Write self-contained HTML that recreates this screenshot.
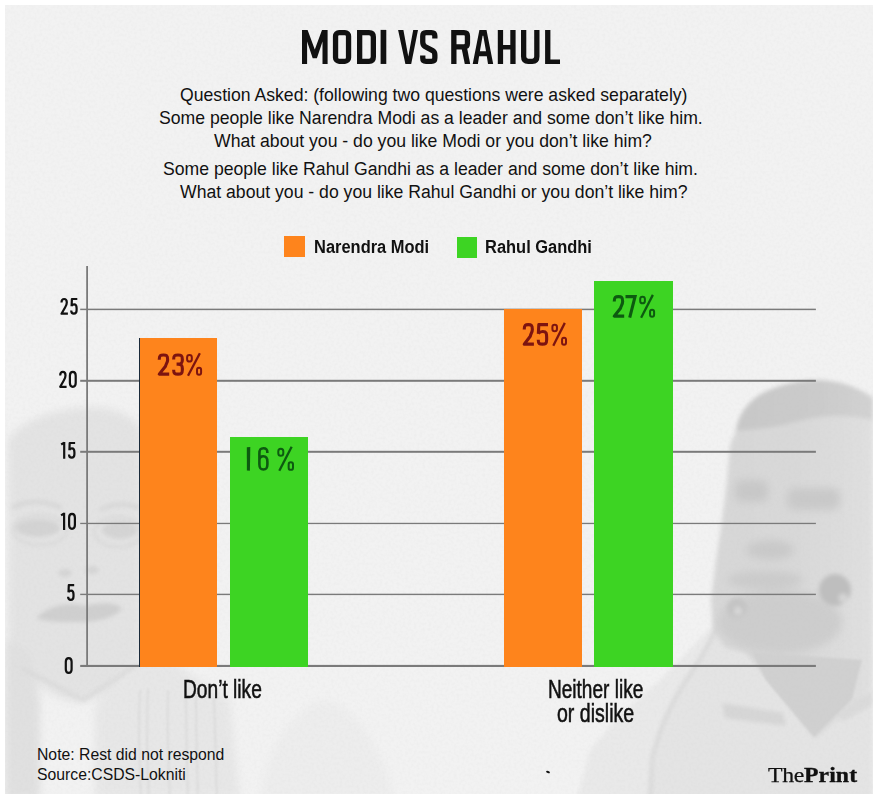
<!DOCTYPE html>
<html><head><meta charset="utf-8">
<style>
html,body{margin:0;padding:0;background:#fff;}
body{width:878px;height:799px;position:relative;overflow:hidden;font-family:"Liberation Sans",sans-serif;}
#card{position:absolute;left:5px;top:5px;width:868px;height:789px;background:#f2f2f2;overflow:hidden;}
.a{position:absolute;white-space:nowrap;line-height:1;}
.q{font-size:17.64px;color:#111;}
.cond{transform-origin:0 0;}
.grid{position:absolute;height:2px;background:#7a7a7a;}
.tick{position:absolute;font-size:23.7px;color:#111;transform-origin:0 0;}
.bar{position:absolute;}
.or{background:#fe841c;}
.gr{background:#3dd423;}
.bl{position:absolute;font-size:30.5px;transform-origin:0 0;font-weight:bold;}
</style></head><body>
<div id="card"></div>
<svg id="bgsvg" width="878" height="799" viewBox="0 0 878 799" style="position:absolute;left:0;top:0">
<defs>
<clipPath id="cc"><rect x="5" y="5" width="868" height="789"/></clipPath>
<filter id="b1" x="-20%" y="-20%" width="140%" height="140%"><feGaussianBlur stdDeviation="1"/></filter>
<filter id="b2" x="-20%" y="-20%" width="140%" height="140%"><feGaussianBlur stdDeviation="2"/></filter>
<filter id="b4" x="-20%" y="-20%" width="140%" height="140%"><feGaussianBlur stdDeviation="4"/></filter>
<filter id="b8" x="-30%" y="-30%" width="160%" height="160%"><feGaussianBlur stdDeviation="8"/></filter>
<linearGradient id="faceg" x1="0" y1="0" x2="1" y2="0">
<stop offset="0" stop-color="#d7d7d7"/><stop offset="0.6" stop-color="#d9d9d9"/><stop offset="1" stop-color="#e0e0e0"/>
</linearGradient>
<linearGradient id="hairg" x1="0" y1="0" x2="1" y2="0">
<stop offset="0" stop-color="#c8c8c8"/><stop offset="0.6" stop-color="#cbcbcb"/><stop offset="1" stop-color="#d2d2d2"/>
</linearGradient>
</defs>
<g clip-path="url(#cc)">
<filter id="noise" x="0" y="0" width="100%" height="100%"><feTurbulence type="fractalNoise" baseFrequency="0.35" numOctaves="2" seed="3"/><feColorMatrix type="matrix" values="0 0 0 0 0.5  0 0 0 0 0.5  0 0 0 0 0.5  0 0 0 0.16 -0.06"/></filter>
<!-- Modi -->
<g filter="url(#b4)">
<path d="M8,440 C25,415 70,405 105,408 C125,412 138,420 142,432 L142,650 C125,680 105,698 80,703 C55,700 35,685 22,665 L8,655 Z" fill="#e3e3e3"/>
<path d="M5,640 L30,650 L40,700 L40,799 L5,799 Z" fill="#e0e0e0"/>
<path d="M95,705 L135,660 L170,660 L230,700 L240,799 L95,799 Z" fill="#e7e7e7"/>
<path d="M260,799 C265,760 280,720 320,700 C350,700 380,740 395,799 Z" fill="#ededed"/>
</g>
<g filter="url(#b1)" stroke="#dcdcdc" stroke-width="2" fill="none">
<path d="M140,690 C138,730 139,760 141,799"/>
<path d="M148,688 C146,730 147,760 149,799"/>
<path d="M168,690 C167,730 168,760 170,799"/>
<path d="M186,692 C186,730 187,760 188,799"/>
<path d="M196,694 C196,730 197,760 198,799"/>
<path d="M214,698 C215,730 216,760 217,799"/>
</g>
<g filter="url(#b2)">
<ellipse cx="38" cy="528" rx="22" ry="9" fill="#d3d3d3"/>
<ellipse cx="120" cy="530" rx="18" ry="9" fill="#d4d4d4"/>
<path d="M12,508 C25,500 45,500 62,508" fill="none" stroke="#d6d6d6" stroke-width="4"/>
<path d="M100,510 C112,503 128,503 140,508" fill="none" stroke="#d6d6d6" stroke-width="4"/>
<ellipse cx="40" cy="530" rx="27" ry="15" fill="none" stroke="#d5d5d5" stroke-width="2"/>
<ellipse cx="118" cy="532" rx="24" ry="15" fill="none" stroke="#d5d5d5" stroke-width="2"/>
<ellipse cx="65" cy="573" rx="7" ry="4" fill="#d4d4d4"/>
<ellipse cx="92" cy="570" rx="7" ry="4" fill="#d4d4d4"/>
<path d="M36,618 C50,604 70,602 85,606 C100,602 115,602 122,608 C118,616 100,622 80,622 C60,622 45,622 36,618 Z" fill="#cfcfcf"/>
<path d="M22,668 L83,700 L138,664" fill="none" stroke="#d5d5d5" stroke-width="2.5"/>
</g>
<!-- Rahul -->
<g filter="url(#b2)">
<path d="M577,799 L590,750 L620,715 L660,680 L720,618 L700,660 L672,700 L656,745 L650,799 Z" fill="#e9e9e9"/>
<path d="M720,618 L700,660 L672,700 L656,745 L650,799 L873,799 L873,640 Z" fill="#e4e4e4"/>
<path d="M736,431 L730,445 L727,480 L722,520 L716,560 L711,600 L713,630 L725,648 L745,652 L815,739 L855,705 L873,685 L873,398 C860,388 840,380 815,380 C795,381 780,385 765,392 C748,400 738,415 736,431 Z" fill="url(#faceg)"/>
<path d="M736,431 C738,415 748,400 765,392 C780,385 795,381 815,380 C840,380 860,388 873,398 L873,420 C850,414 820,415 800,421 C780,427 760,429 736,431 Z" fill="url(#hairg)"/>
<path d="M722,703 L783,713 L786,726 L725,718 Z" fill="#d6d6d6"/>
<path d="M838,712 L873,690 L873,705 L842,722 Z" fill="#dadada"/>
<path d="M720,618 C712,640 700,660 686,680 C670,705 658,730 652,760 L650,799" fill="none" stroke="#d4d4d4" stroke-width="3"/>
</g>
<g filter="url(#b4)">
<rect x="735" y="480" width="33" height="22" rx="6" fill="#c8c8c8"/>
<rect x="787" y="488" width="53" height="22" rx="8" fill="#c9c9c9"/>
<ellipse cx="770" cy="550" rx="24" ry="10" fill="#c9c9c9"/>
<ellipse cx="765" cy="580" rx="38" ry="9" fill="#cbcbcb"/>
<ellipse cx="780" cy="622" rx="62" ry="32" fill="#cdcdcd"/>
</g>
<g filter="url(#b1)">
<path d="M752,652 L766,680 L814,737 L852,699 L862,660 Z" fill="#d0d0d0"/>
</g>
<g filter="url(#b2)">
<circle cx="835" cy="590" r="16" fill="#bebebe"/>
<circle cx="843" cy="598" r="4.5" fill="#d6d6d6"/>
<circle cx="737" cy="608" r="10" fill="#c4c4c4"/>
<circle cx="738" cy="611" r="4" fill="#d8d8d8"/>
</g>
</g>
<rect x="5" y="5" width="868" height="789" filter="url(#noise)"/>
</g>
</svg>

<!-- title -->
<svg width="878" height="80" viewBox="0 0 878 80" style="position:absolute;left:0;top:0">
<g fill="#111">
<path d="M302,63.95 L302,29.9 L307.6,29.9 L314.8,49.5 L322,29.9 L327.6,29.9 L327.6,63.95 L322.5,63.95 L322.5,41.5 L316.9,58.3 L312.7,58.3 L307.1,41.5 L307.1,63.95 Z"/>
<path d="M380.6,29.9 H386.3 V63.95 H380.6 Z"/>
<path d="M398.1,29.9 L403.4,29.9 L408.3,56.5 L413.2,29.9 L418,29.9 L411.2,63.95 L405.4,63.95 Z"/>
<path fill-rule="evenodd" d="M472.7,63.95 L479.4,29.9 L486.5,29.9 L493.2,63.95 L488,63.95 L486.8,56.2 L479.1,56.2 L477.9,63.95 Z M479.9,51.2 L486,51.2 L483.3,35.8 L482.6,35.8 Z"/>
<path d="M497.8,29.9 H503.1 V45 H510.3 V29.9 H515.6 V63.95 H510.3 V49.6 H503.1 V63.95 H497.8 Z"/>
<path d="M545.1,29.9 H550.4 V59.4 H560 V63.95 H545.1 Z"/>
<path d="M461,45.5 L466.6,45.5 L470.2,63.95 L464.8,63.95 Z"/>
</g>
<g fill="none" stroke="#111" stroke-width="5.3">
<rect x="335.55" y="32.55" width="13" height="28.75" rx="3.6"/>
<path d="M359.65,32.55 H369 Q373.35,32.55 373.35,37 V56.8 Q373.35,61.3 369,61.3 H359.65 Z"/>
<path d="M434.85,38.5 V36 Q434.85,32.55 431.5,32.55 H426 Q422.75,32.55 422.75,36 V42 Q422.75,45 425,46.5 L432.6,50.6 Q434.85,52 434.85,55 V58 Q434.85,61.3 431.5,61.3 H426 Q422.75,61.3 422.75,58 V55.5"/>
<path d="M453.85,63.95 V32.55 H464 Q467.45,32.55 467.45,36 V43.2 Q467.45,46.8 464,46.8 H453.85"/>
<path d="M523.65,29.9 V56.5 Q523.65,61.3 528.2,61.3 H532.3 Q536.85,61.3 536.85,56.5 V29.9"/>
</g>
</svg>

<!-- question -->
<div class="a q" style="left:180px;top:87px">Question Asked: (following two questions were asked separately)</div>
<div class="a q" style="left:159px;top:110px">Some people like Narendra Modi as a leader and some don’t like him.</div>
<div class="a q" style="left:214px;top:133px">What about you - do you like Modi or you don’t like him?</div>
<div class="a q" style="left:163px;top:161px">Some people like Rahul Gandhi as a leader and some don’t like him.</div>
<div class="a q" style="left:180px;top:184px">What about you - do you like Rahul Gandhi or you don’t like him?</div>

<!-- legend -->
<div style="position:absolute;left:284px;top:236px;width:21px;height:21px;background:#fe841c"></div>
<div class="a cond" style="left:314.3px;top:238.8px;font-size:17.6px;font-weight:bold;color:#111;transform:scaleX(0.935)">Narendra Modi</div>
<div style="position:absolute;left:457px;top:237px;width:20px;height:21px;background:#3dd423"></div>
<div class="a cond" style="left:485.3px;top:238.8px;font-size:17.6px;font-weight:bold;color:#111;transform:scaleX(0.935)">Rahul Gandhi</div>

<!-- grid -->
<svg width="878" height="799" viewBox="0 0 878 799" style="position:absolute;left:0;top:0"><g fill="#7a7a7a">
<rect x="80.2" y="308.65" width="735.7" height="1.5"/>
<rect x="80.2" y="379.8" width="735.7" height="2"/>
<rect x="80.2" y="450.8" width="735.7" height="2"/>
<rect x="80.2" y="522.8" width="735.7" height="1.3"/>
<rect x="80.2" y="593.7" width="735.7" height="1.4"/>
<rect x="80.2" y="664.9" width="735.7" height="2.1"/>
<rect x="86.2" y="266" width="1.8" height="401"/>
</g></svg>
<!-- ticks -->
<svg width="100" height="799" viewBox="0 0 100 799" style="position:absolute;left:0;top:0"><g fill="none" stroke="#111" stroke-width="2.2" stroke-linejoin="round"><path transform="translate(60.40,297.90) scale(1,0.994)" d="M1.1,4.6 C1.1,2.2 2.1,1.1 3.75,1.1 C5.4,1.1 6.4,2.2 6.4,4.6 C6.4,6.6 5.7,7.9 4.8,9.4 L1.1,15.9 H7.5"/><path transform="translate(70.10,297.90) scale(1,0.994)" d="M7.2,1.1 H1.8 L1.5,8.4 M1.5,8.1 C2.2,7.1 3,6.6 4,6.6 C5.8,6.6 6.5,7.8 6.5,10.2 V12.5 C6.5,14.8 5.6,15.9 3.8,15.9 C2,15.9 1.1,14.8 1.1,12.8"/><path transform="translate(59.10,370.80) scale(1,1.006)" d="M1.1,4.6 C1.1,2.2 2.1,1.1 3.75,1.1 C5.4,1.1 6.4,2.2 6.4,4.6 C6.4,6.6 5.7,7.9 4.8,9.4 L1.1,15.9 H7.5"/><path transform="translate(68.80,370.80) scale(1,1.006)" d="M4,1.1 C6.1,1.1 6.9,2.4 6.9,4.8 V12.2 C6.9,14.6 6.1,15.9 4,15.9 C1.9,15.9 1.1,14.6 1.1,12.2 V4.8 C1.1,2.4 1.9,1.1 4,1.1 Z"/><path transform="translate(60.90,441.90) scale(1,0.994)" d="M3.3,0 V17 M0.3,2.6 L3.3,0.7"/><path transform="translate(67.90,441.90) scale(1,0.994)" d="M7.2,1.1 H1.8 L1.5,8.4 M1.5,8.1 C2.2,7.1 3,6.6 4,6.6 C5.8,6.6 6.5,7.8 6.5,10.2 V12.5 C6.5,14.8 5.6,15.9 3.8,15.9 C2,15.9 1.1,14.8 1.1,12.8"/><path transform="translate(60.80,512.80) scale(1,1.006)" d="M3.3,0 V17 M0.3,2.6 L3.3,0.7"/><path transform="translate(68.00,512.80) scale(1,1.006)" d="M4,1.1 C6.1,1.1 6.9,2.4 6.9,4.8 V12.2 C6.9,14.6 6.1,15.9 4,15.9 C1.9,15.9 1.1,14.6 1.1,12.2 V4.8 C1.1,2.4 1.9,1.1 4,1.1 Z"/><path transform="translate(67.00,584.10) scale(1,0.988)" d="M7.2,1.1 H1.8 L1.5,8.4 M1.5,8.1 C2.2,7.1 3,6.6 4,6.6 C5.8,6.6 6.5,7.8 6.5,10.2 V12.5 C6.5,14.8 5.6,15.9 3.8,15.9 C2,15.9 1.1,14.8 1.1,12.8"/><path transform="translate(64.70,657.00) scale(1,0.994)" d="M4,1.1 C6.1,1.1 6.9,2.4 6.9,4.8 V12.2 C6.9,14.6 6.1,15.9 4,15.9 C1.9,15.9 1.1,14.6 1.1,12.2 V4.8 C1.1,2.4 1.9,1.1 4,1.1 Z"/></g></svg>
<!-- bars -->
<div class="bar or" style="left:139px;top:338px;width:78px;height:329px;border-left:1px solid #1a2a3a;box-sizing:border-box"></div>
<div class="bar gr" style="left:230px;top:437px;width:78px;height:230px"></div>
<div class="bar or" style="left:504px;top:309px;width:78px;height:358px"></div>
<div class="bar gr" style="left:594px;top:281px;width:79px;height:386px"></div>

<!-- bar labels -->
<svg width="878" height="799" viewBox="0 0 878 799" style="position:absolute;left:0;top:0"><g fill="none" stroke="#7d1410" color="#7d1410" stroke-width="3.1" stroke-linecap="butt" stroke-linejoin="round"><path d="M159.25,359.64 C159.25,355.18 160.57,354.95 163.45,354.95 C166.32,354.95 167.65,355.18 167.65,359.64 C167.65,362.32 165.92,364.10 165.52,366.33 L159.25,374.15 H169.20"/><path d="M173.65,359.42 C173.65,355.18 175.05,354.95 178.00,354.95 C180.95,354.95 182.35,355.18 182.35,359.42 V360.09 C182.35,362.77 181.54,364.10 178.00,364.10 H176.58 M178.00,364.10 C181.54,364.10 182.35,365.66 182.35,368.56 V369.68 C182.35,373.92 180.95,374.15 178.00,374.15 C175.05,374.15 173.65,373.92 173.65,369.68"/><rect x="187.10" y="355.07" width="4.72" height="6.47" rx="2.36" ry="2.36" stroke-width="2.0"/><rect x="197.02" y="367.78" width="4.08" height="6.92" rx="2.04" ry="2.04" stroke-width="2.0"/><path d="M199.86,353.18 L188.02,375.70" stroke-width="2.3" stroke-linecap="butt"/></g><g fill="none" stroke="#7d1410" color="#7d1410" stroke-width="3.1" stroke-linecap="butt" stroke-linejoin="round"><path d="M524.25,329.43 C524.25,324.91 525.50,324.65 528.30,324.65 C531.10,324.65 532.35,324.91 532.35,329.43 C532.35,332.14 530.67,333.95 530.32,336.21 L524.25,344.15 H533.90"/><path d="M548.00,324.65 H538.83 L538.33,333.95 M538.33,333.50 C539.58,331.91 541.07,331.46 542.80,331.46 C546.48,331.46 546.65,333.50 546.65,337.11 V339.82 C546.65,343.89 545.33,344.15 542.45,344.15 C539.58,344.15 538.25,343.89 538.25,339.82"/><rect x="552.40" y="324.78" width="4.55" height="6.59" rx="2.28" ry="2.28" stroke-width="2.0"/><rect x="562.07" y="337.66" width="3.93" height="7.04" rx="1.96" ry="1.96" stroke-width="2.0"/><path d="M564.82,322.87 L553.27,345.70" stroke-width="2.3" stroke-linecap="butt"/></g><g fill="none" stroke="#0d5a10" color="#0d5a10" stroke-width="3.1" stroke-linecap="butt" stroke-linejoin="round"><path d="M614.25,301.43 C614.25,296.91 615.58,296.65 618.45,296.65 C621.33,296.65 622.65,296.91 622.65,301.43 C622.65,304.14 620.93,305.95 620.52,308.21 L614.25,316.15 H624.20"/><path d="M625.50,296.65 H635.05 L629.72,317.70" stroke-linejoin="miter"/><rect x="640.20" y="296.78" width="4.68" height="6.59" rx="2.34" ry="2.34" stroke-width="2.0"/><rect x="650.06" y="309.66" width="4.04" height="7.04" rx="2.02" ry="2.02" stroke-width="2.0"/><path d="M652.87,294.87 L641.11,317.70" stroke-width="2.3" stroke-linecap="butt"/></g><g fill="none" stroke="#0d5a10" color="#0d5a10" stroke-width="2.6" stroke-linecap="butt" stroke-linejoin="round"><path d="M246.80,447.30 L250.30,447.00 L249.90,470.80 L246.90,470.50 Z" stroke="none" fill="currentColor"/><path d="M267.40,452.95 C267.40,448.90 266.05,448.30 263.40,448.30 C260.75,448.30 259.40,448.90 259.40,453.43 V464.37 C259.40,468.90 260.75,469.50 263.40,469.50 C266.05,469.50 267.40,468.90 267.40,464.37 V461.76 C267.40,457.95 266.05,456.28 263.40,456.28 C260.75,456.28 259.40,457.95 259.40,460.33"/><rect x="278.30" y="448.71" width="5.01" height="7.04" rx="2.51" ry="2.51" stroke-width="2.0"/><rect x="288.65" y="462.28" width="4.35" height="7.52" rx="2.17" ry="2.17" stroke-width="2.0"/><path d="M291.66,446.76 L279.30,470.80" stroke-width="2.3" stroke-linecap="butt"/></g></svg>
<!-- x labels -->
<div class="a cond" style="left:182.5px;top:677px;font-size:25.4px;color:#111;-webkit-text-stroke:0.55px #111;transform:scaleX(0.755)">Don’t like</div>
<div class="a cond" style="left:547.5px;top:677px;font-size:25.4px;color:#111;-webkit-text-stroke:0.55px #111;transform:scaleX(0.75)">Neither like</div>
<div class="a cond" style="left:557px;top:701px;font-size:25.4px;color:#111;-webkit-text-stroke:0.55px #111;transform:scaleX(0.77)">or dislike</div>

<!-- notes -->
<div class="a" style="left:37px;top:747px;font-size:15.75px;color:#111">Note: Rest did not respond</div>
<div class="a" style="left:37px;top:767px;font-size:15.75px;color:#111">Source:CSDS-Lokniti</div>

<!-- logo -->
<div class="a cond" style="left:767.5px;top:764px;font-family:'Liberation Serif',serif;font-size:22px;color:#111;transform:scaleX(1.078)"><span style="font-weight:normal;-webkit-text-stroke:0.25px #111;letter-spacing:-0.3px">The</span><span style="font-weight:bold;-webkit-text-stroke:0.35px #111;letter-spacing:0.1px">Print</span></div>
<div style="position:absolute;left:546px;top:771px;width:4px;height:2px;border-radius:50%;background:#111;transform:rotate(20deg)"></div>
</body></html>
